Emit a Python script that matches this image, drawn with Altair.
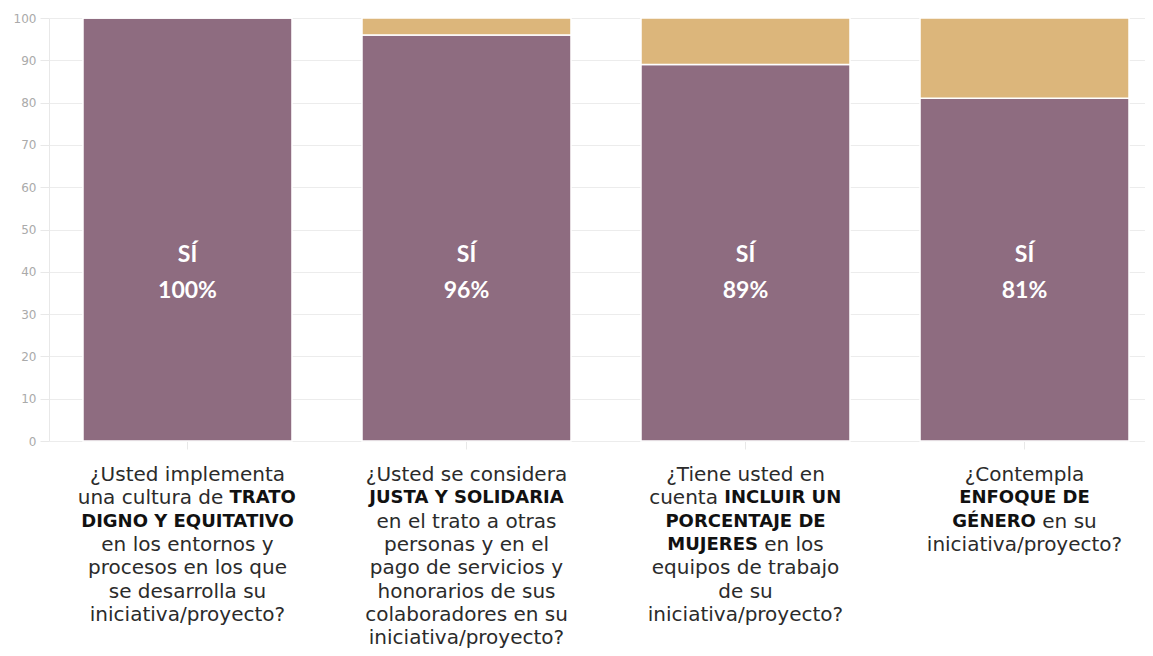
import altair as alt
import pandas as pd

# ---------------- data ----------------
categories = ["P1", "P2", "P3", "P4"]
si_values = [100, 96, 89, 81]
no_values = [0, 4, 11, 19]
answers = ["Sí", "No"]
si_label = "SÍ"
label_lines = [
    ["¿Usted implementa", "una cultura de **TRATO**", "**DIGNO Y EQUITATIVO**",
     "en los entornos y", "procesos en los que", "se desarrolla su", "iniciativa/proyecto?"],
    ["¿Usted se considera", "**JUSTA Y SOLIDARIA**", "en el trato a otras",
     "personas y en el", "pago de servicios y", "honorarios de sus",
     "colaboradores en su", "iniciativa/proyecto?"],
    ["¿Tiene usted en", "cuenta **INCLUIR UN**", "**PORCENTAJE DE**",
     "**MUJERES** en los", "equipos de trabajo", "de su", "iniciativa/proyecto?"],
    ["¿Contempla", "**ENFOQUE DE**", "**GÉNERO** en su", "iniciativa/proyecto?"],
]

# ---------------- style ----------------
PURPLE = "#8e6c80"
GOLD = "#dcb67b"
FONT = "DejaVu Sans"
FS_REG = 20
FS_BOLD = 18
LINE_H = 23.3
PLOT_W = 1096
PLOT_H = 423

# approximate DejaVu Sans advance widths (em) used to centre mixed-weight lines
REG = dict(zip("abcdefghijklmnopqrstuvwxyz ",
               [.613, .635, .550, .635, .615, .352, .635, .634, .278, .278, .579, .278, .974,
                .634, .612, .635, .635, .411, .521, .392, .634, .592, .818, .592, .592, .525, .318]))
BOLD = dict(zip("ABCDEFGHIJKLMNOPQRSTUVWXYZÉ ",
                [.774, .762, .734, .830, .683, .683, .821, .837, .372, .372, .775, .637, .995,
                 .837, .850, .733, .850, .770, .720, .682, .812, .774, 1.103, .771, .724, .725, .683, .348]))


def text_width(s, bold):
    if bold:
        return sum(BOLD.get(ch, 0.65) for ch in s) * FS_BOLD
    return sum(REG.get(ch, 0.6) for ch in s) * FS_REG


def parse(line):
    segs = []
    for i, part in enumerate(line.split("**")):
        p = part.strip()
        if p:
            segs.append((p, i % 2 == 1))
    return segs


# ---------------- tables ----------------
bar_rows = []
for c, s, n in zip(categories, si_values, no_values):
    bar_rows.append({"cat": c, "answer": answers[0], "value": s, "ord": 0})
    bar_rows.append({"cat": c, "answer": answers[1], "value": n, "ord": 1})
bar_df = pd.DataFrame(bar_rows)

lbl_df = pd.DataFrame({"cat": categories,
                       "lbl": [f"{si_label}\n{v}%" for v in si_values]})

txt_rows = []
space = REG[" "] * FS_REG
for c, lines in zip(categories, label_lines):
    for li, line in enumerate(lines):
        segs = parse(line)
        if len(segs) == 1:
            t, b = segs[0]
            txt_rows.append({"cat": c, "line": li, "t": t,
                             "w": "bold" if b else "normal", "al": "center", "off": 0.0})
        else:
            (ta, ba), (tb, bb) = segs
            wa, wb = text_width(ta, ba), text_width(tb, bb)
            left = -(wa + space + wb) / 2
            txt_rows.append({"cat": c, "line": li, "t": ta,
                             "w": "bold" if ba else "normal", "al": "right",
                             "off": round(left + wa, 1)})
            txt_rows.append({"cat": c, "line": li, "t": tb,
                             "w": "bold" if bb else "normal", "al": "left",
                             "off": round(left + wa + space, 1)})
txt_df = pd.DataFrame(txt_rows)

# ---------------- scales ----------------
x_scale = alt.Scale(domain=categories, paddingInner=0.251, paddingOuter=0.0896, align=0.68)
x_enc = alt.X("cat:N", scale=x_scale, sort=categories, title=None,
              axis=alt.Axis(labels=False, ticks=True, tickSize=8, tickColor="#e8e8e8",
                            domain=False, grid=False))

bars = alt.Chart(bar_df).mark_bar(stroke="white", strokeWidth=1.5).encode(
    x=x_enc,
    y=alt.Y("value:Q", stack="zero", title=None,
            scale=alt.Scale(domain=[0, 100], nice=False),
            axis=alt.Axis(values=list(range(0, 101, 10)), labelFont=FONT, labelFontSize=12,
                          labelColor="#aaaaaa", tickColor="#e8e8e8", tickSize=9,
                          domainColor="#e8e8e8", gridColor="#ececec", labelPadding=4)),
    color=alt.Color("answer:N", scale=alt.Scale(domain=answers, range=[PURPLE, GOLD]),
                    legend=None),
    order=alt.Order("ord:Q"),
)

labels = alt.Chart(lbl_df).mark_text(
    font="Lato", fontSize=23, fontWeight="bold", color="white",
    lineBreak="\n", lineHeight=36, baseline="middle", align="center",
).encode(x=alt.X("cat:N", scale=x_scale, sort=categories), y=alt.datum(44), text="lbl:N")

y_text = alt.Y("line:Q", axis=None,
               scale=alt.Scale(domain=[0, 10], range=[PLOT_H + 34, PLOT_H + 34 + 10 * LINE_H],
                               nice=False, zero=False))

text_layers = []
for (w, al, off), sub in txt_df.groupby(["w", "al", "off"]):
    text_layers.append(
        alt.Chart(sub).mark_text(
            font=FONT, fontSize=FS_BOLD if w == "bold" else FS_REG, fontWeight=w, align=al,
            baseline="middle", dx=float(off),
            color="#111111" if w == "bold" else "#2b2b2b",
        ).encode(
            x=alt.X("cat:N", scale=x_scale, sort=categories),
            y=y_text,
            text="t:N",
        )
    )

chart = alt.layer(
    alt.layer(bars, labels),
    alt.layer(*text_layers),
).resolve_scale(y="independent").properties(
    width=PLOT_W, height=PLOT_H,
    autosize=alt.AutoSizeParams(type="none"),
    padding={"left": 41, "top": 10, "right": 0, "bottom": 215},
).configure_view(stroke=None)

chart.save("out.html", embed_options={"renderer": "svg", "actions": False})
